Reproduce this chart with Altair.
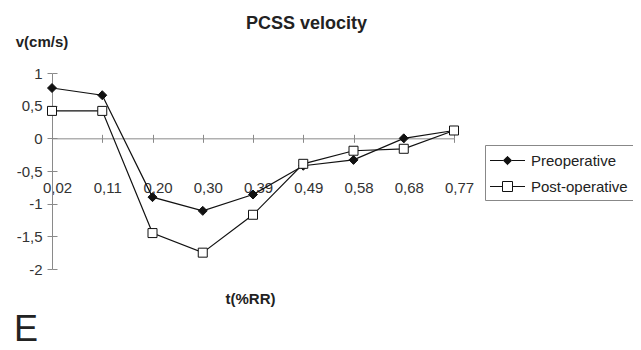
import altair as alt
import pandas as pd

# ---- data ----
t_labels = ["0,02", "0,11", "0,20", "0,30", "0,39", "0,49", "0,58", "0,68", "0,77"]
pre = [0.77, 0.66, -0.90, -1.11, -0.86, -0.42, -0.33, 0.00, 0.12]
post = [0.42, 0.42, -1.45, -1.75, -1.17, -0.39, -0.19, -0.16, 0.12]
series_names = ["Preoperative", "Post-operative"]
y_ticks = [-2, -1.5, -1, -0.5, 0, 0.5, 1]
y_labels = ["-2", "-1,5", "-1", "-0,5", "0", "0,5", "1"]

rows = []
for name, vals in zip(series_names, [pre, post]):
    for i, lab in enumerate(t_labels):
        rows.append({"idx": i, "t": lab, "series": name, "v": vals[i]})
df = pd.DataFrame(rows)

FONT = "Liberation Sans"
W, H = 402, 196
Y_MIN, Y_MAX = -2, 1
ZERO = H * (Y_MAX - 0) / (Y_MAX - Y_MIN)  # pixel row of v = 0

xscale = alt.Scale(domain=[0, len(t_labels) - 1], nice=False, zero=False)
yscale = alt.Scale(domain=[Y_MIN, Y_MAX], nice=False, zero=False)

x_label_expr = f"{t_labels}[datum.value]"
y_label_expr = " : ".join(
    f"datum.value == {v} ? '{l}'" for v, l in zip(y_ticks, y_labels)
) + " : ''"

AX_COL = "#8a8a8a"
LAB_COL = "#333333"

base = alt.Chart(df)

lines = base.mark_line(color="#111111", strokeWidth=1.2).encode(
    x=alt.X("idx:Q", scale=xscale, axis=alt.Axis(
        orient="bottom", offset=-(H - ZERO), values=list(range(len(t_labels))),
        labelExpr=x_label_expr, tickSize=4, labelPadding=38.5, labelOffset=5,
        labelFont=FONT, labelFontSize=15, labelColor=LAB_COL, labelOverlap=False,
        labelFlush=False, domainColor=AX_COL, tickColor=AX_COL, grid=False,
        title="t(%RR)", titleX=198, titleY=165, titleAlign="center",
        titleBaseline="alphabetic", titleFont=FONT, titleFontSize=15,
        titleFontWeight="bold", titleColor="#222222")),
    y=alt.Y("v:Q", scale=yscale, axis=alt.Axis(
        orient="left", values=y_ticks, labelExpr=y_label_expr, tickSize=5,
        labelPadding=5, labelFont=FONT, labelFontSize=15, labelColor=LAB_COL,
        labelOverlap=False, labelFlush=False, domainColor=AX_COL, tickColor=AX_COL,
        grid=False, title="v(cm/s)", titleAngle=0, titleX=-10.5, titleY=-27,
        titleAlign="center", titleBaseline="alphabetic", titleFont=FONT,
        titleFontSize=15, titleFontWeight="bold", titleColor="#222222")),
    detail="series:N",
)

points = base.mark_point(filled=True, stroke="#111111", strokeWidth=1,
                         size=81, opacity=1).encode(
    x=alt.X("idx:Q", scale=xscale, axis=alt.Axis(
        orient="top", offset=-ZERO, values=list(range(len(t_labels))),
        labels=False, domain=False, tickSize=4, tickColor=AX_COL, grid=False,
        title=None)),
    y=alt.Y("v:Q", scale=yscale, axis=alt.Axis(
        orient="right", offset=-W, values=y_ticks, labels=False, domain=False,
        tickSize=5, tickColor=AX_COL, grid=False, title=None)),
    shape=alt.Shape("series:N", scale=alt.Scale(domain=series_names,
                    range=["diamond", "square"]), legend=None),
    fill=alt.Fill("series:N", scale=alt.Scale(domain=series_names,
                  range=["#111111", "white"]), legend=None),
)

# legend-only layer: symbols made of a line stub with the marker
sym_pre = "M-1.75,0H-0.42M0.42,0H1.75M0,-0.42L0.42,0L0,0.42L-0.42,0Z"
sym_post = "M-1.75,0H-0.5M0.5,0H1.75M-0.5,-0.5H0.5V0.5H-0.5Z"
leg = alt.Legend(
    title=None, orient="none", legendX=433, legendY=72, padding=5,
    strokeColor="#888888", fillColor="white", symbolSize=400,
    symbolStrokeWidth=1, symbolOffset=7,
    labelOffset=13, labelFont=FONT, labelFontSize=15, labelColor="#222222",
    rowPadding=7, symbolOpacity=1)
legend_layer = base.transform_filter("false").mark_point(
    filled=True, strokeWidth=1, opacity=1).encode(
    shape=alt.Shape("series:N", scale=alt.Scale(domain=series_names,
                    range=[sym_pre, sym_post]), legend=leg),
    fill=alt.Fill("series:N", scale=alt.Scale(domain=series_names,
                  range=["#111111", "white"]), legend=leg),
    stroke=alt.Stroke("series:N", scale=alt.Scale(domain=series_names,
                      range=["#111111", "#111111"]), legend=leg),
)

title_text = alt.Chart(pd.DataFrame({"label": ["PCSS velocity"]})).mark_text(
    font=FONT, fontSize=18, fontWeight="bold", color="#222222",
    align="center", baseline="alphabetic").encode(
    x=alt.value(254.5), y=alt.value(-44.5), text="label:N")

e_text = alt.Chart(pd.DataFrame({"label": ["E"]})).mark_text(
    font=FONT, fontSize=36, color="#222222", align="left",
    baseline="alphabetic").encode(
    x=alt.value(-38), y=alt.value(268), text="label:N")

chart = alt.layer(lines, points, legend_layer, title_text, e_text).resolve_axis(
    x="independent", y="independent"
).resolve_scale(shape="independent", fill="independent",
                stroke="independent").properties(
    width=W, height=H,
    autosize=alt.AutoSizeParams(type="none"),
    padding={"left": 44, "top": 65, "right": 179, "bottom": 73},
    background="white",
).configure_view(stroke=None)

chart.save("out.html", embed_options={"renderer": "svg", "actions": False})
